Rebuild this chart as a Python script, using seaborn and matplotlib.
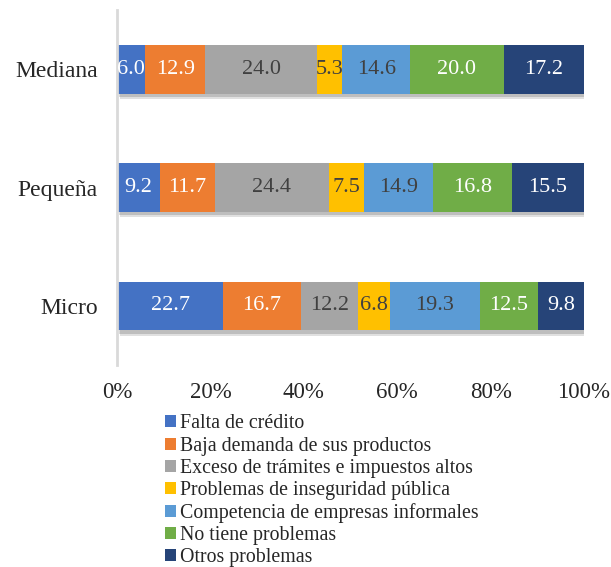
import matplotlib
matplotlib.use("Agg")
import matplotlib.pyplot as plt
import matplotlib.patheffects as pe
from matplotlib.patches import Patch
import numpy as np
import pandas as pd
import seaborn as sns

sizes = ["Mediana", "Pequeña", "Micro"]
series = [
    "Falta de crédito",
    "Baja demanda de sus productos",
    "Exceso de trámites e impuestos altos",
    "Problemas de inseguridad pública",
    "Competencia de empresas informales",
    "No tiene problemas",
    "Otros problemas",
]
mediana = [6.0, 12.9, 24.0, 5.3, 14.6, 20.0, 17.2]
pequena = [9.2, 11.7, 24.4, 7.5, 14.9, 16.8, 15.5]
micro = [22.7, 16.7, 12.2, 6.8, 19.3, 12.5, 9.8]
x_ticks = [0, 20, 40, 60, 80, 100]

colors = ["#4472C4", "#ED7D31", "#A5A5A5", "#FFC000", "#5B9BD5", "#70AD47", "#264478"]
text_colors = ["white", "white", "#404040", "#404040", "#404040", "white", "white"]

values = {"Mediana": mediana, "Pequeña": pequena, "Micro": micro}
rows = []
for size in sizes:
    vals = np.array(values[size])
    ends = np.cumsum(vals)
    for s, v, e in zip(series, vals, ends):
        rows.append({"size": size, "serie": s, "valor": v, "fin": e, "inicio": e - v})
df = pd.DataFrame(rows)

sns.set_theme(style="white")
plt.rcParams["font.family"] = ["Liberation Serif", "DejaVu Serif"]

fig = plt.figure(figsize=(6.11, 5.67), dpi=100)
ax = fig.add_axes([0.1915, 0.356, 0.7643, 0.626])

# stacked bars: draw cumulative totals from the last segment to the first
for j, (s, c) in enumerate(reversed(list(zip(series, colors)))):
    sub = df[df["serie"] == s]
    n_before = len(ax.patches)
    sns.barplot(data=sub, x="fin", y="size", order=sizes, color=c, saturation=1,
                width=0.41, ax=ax, orient="h", linewidth=0)
    if j == 0:
        # soft drop shadow under each full-length bar
        for bar in ax.patches[n_before:]:
            bar.set_path_effects([
                pe.SimplePatchShadow(offset=(2, -4), alpha=0.12, shadow_rgbFace="#000000"),
                pe.SimplePatchShadow(offset=(1.5, -2.5), alpha=0.15, shadow_rgbFace="#000000"),
                pe.Normal(),
            ])

# segment value labels
for _, r in df.iterrows():
    i = sizes.index(r["size"])
    k = series.index(r["serie"])
    ax.text(r["inicio"] + r["valor"] / 2, i, f"{r['valor']:.1f}", ha="center", va="center",
            color=text_colors[k], fontsize=16)

ax.set_xlim(0, 100)
ax.set_ylim(2.5, -0.5)
ax.set_xticks(x_ticks)
ax.set_xticklabels([f"{t}%" for t in x_ticks], fontsize=16.5)
ax.tick_params(axis="y", labelsize=17, length=0, pad=14)
ax.tick_params(axis="x", length=0, pad=12)
ax.set_xlabel("")
ax.set_ylabel("")
for side in ["top", "right", "bottom"]:
    ax.spines[side].set_visible(False)
ax.spines["left"].set_color("#D9D9D9")
ax.spines["left"].set_linewidth(2)

handles = [Patch(facecolor=c, edgecolor="none") for c in colors]
fig.legend(handles, series, loc="upper left", bbox_to_anchor=(0.27, 0.269),
           frameon=False, fontsize=14.3, handlelength=0.55, handleheight=0.55,
           handletextpad=0.2, labelspacing=0.16, borderaxespad=0, borderpad=0)

fig.savefig("out.png", dpi=100)
